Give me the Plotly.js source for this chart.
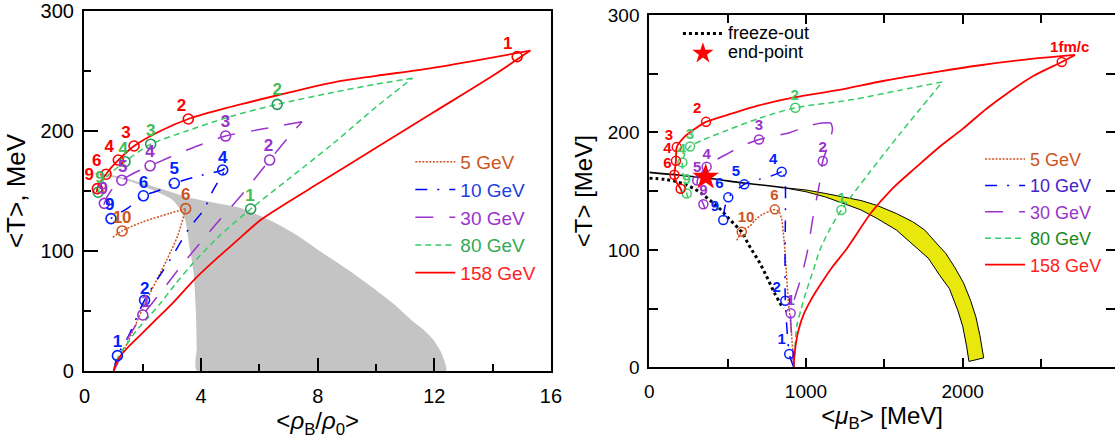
<!DOCTYPE html>
<html><head><meta charset="utf-8">
<script src="https://cdn.plot.ly/plotly-3.0.1.min.js"></script>
<style>html,body{margin:0;padding:0;background:#fff}#g{width:1115px;height:440px}</style>
</head><body><div id="g"></div>
<script>
// ---------------- LEFT PANEL: <rho_B/rho_0> vs <T> ----------------
const grayUpX = [0.3,1,1.5,2.6,3.5,4.5,5.33,6.5,7.3,8.13,9,9.97,10.6,11.19,11.6,11.93,12.2,12.35,12.4];
const grayUpY = [165,163,160,152,145,140,136,124,113,99,85,68,56,43,35,27,17,8,0];
const grayLowX = [0.3,1.5,2.6,3.0,3.25,3.45,3.62,3.75,3.82,3.85,3.86];
const grayLowY = [164.5,158.5,148,143,136,126,101,80,50,20,0];

const L5x = [1.0,1.5,2.13,2.82,3.2,3.47, 2.93,2.02,1.29,0.93];
const L5y = [0,25,59,92.5,113,135.3, 131.4,124.4,116.7,110.6];
const L10x = [1.0,1.13,1.5,2.06,2.93,3.62,4.08,4.42,4.78,4.8, 4.74,4.0,3.08,2.5,2.02,1.5,0.91,0.88];
const L10y = [0,12.8,28.6,59,92.5,120,134,151,166,169, 167.5,163,156.4,150,146,136,127,125];
const L30x = [1.0,1.2,1.45,2.0,2.59,3.33,4.5,5.5,6.35,7.0,7.46, 6.2,4.84,3.5,2.25,1.7,1.28,0.9,0.68,0.66];
const L30y = [0,10,25.8,46.7,64.7,88,122,150,175.8,195,207.8, 202,195.8,184,171,165,159,150,139.7,136];
const L80x = [1.0,1.16,1.5,1.79,2.2,2.59,3.1,3.62,4.6,5.7,7.0,8.5,10.0,11.25, 10.0,8.5,6.61,5.0,3.5,2.27,1.7,1.39,0.9,0.6,0.47,0.46];
const L80y = [0,12,24,34,45,56,72,87,112,135,160,189,220,244, 239,232,222.2,212,200,189,180,174.4,165,157,149,145];
const L158x = [1.0,1.1,1.25,1.5,2.0,2.5,3.0,3.8,4.5,5.2,6.05,7.0,8.0,10.0,12.0,14.0,15.29, 13.5,11.8,10.0,8.62,6.66,5.0,3.56,2.6,1.70,1.16,0.9,0.74,0.55,0.44,0.42];
const L158y = [0,7,13,20,32,44,56,77,93,108,126,141,156,186,216,246,267, 259,252,246,241,230,220,210,200,187.5,175.8,169,164,158,152,149];

const L5mx = [3.47,1.29], L5my = [135.3,116.7];
const L10mx = [1.13,2.06,4.74,3.08,2.02,0.91], L10my = [12.8,59,167.5,156.4,146,127];
const L30mx = [2.0,6.35,4.84,2.25,1.28,0.68], L30my = [46.7,175.8,195.8,171,159,139.7];
const L80mx = [5.7,6.61,2.27,1.39,0.47], L80my = [135,222.2,189,174.4,149];
const L158mx = [14.84,3.56,1.70,1.16,0.74,0.44], L158my = [262,210,187.5,175.8,164,152];

const L5lx = [3.47,1.29], L5ly = [146,127], L5lt = ['6','10'];
const L10lx = [1.13,2.07,4.74,3.08,2.02,0.87], L10ly = [23.6,67.5,177,167.5,156,137.5], L10lt = ['1','2','4','5','6','9'];
const L30lx = [2.11,6.31,4.84,2.25,1.31,0.64], L30ly = [57,187,207,182,169,151], L30lt = ['1','2','3','4','5','9'];
const L80lx = [5.68,6.61,2.27,1.33,0.53], L80ly = [145.3,233.6,199,184.7,160.6], L80lt = ['1','2','3','4','9'];
const L158lx = [14.52,3.33,1.42,0.85,0.42,0.16], L158ly = [271.7,220,198,186,174,162.5], L158lt = ['1','2','3','4','6','9'];

// ---------------- RIGHT PANEL: <mu_B> vs <T> ----------------
const yelOutX = [855,1000,1125,1250,1351,1450,1576,1680,1757,1830,1892,1950,2005,2050,2084,2110,2129,2134];
const yelOutY = [153,151,148,145,142,138,131,124,117,106,97,85,72,57,43,27,10,8];
const yelInX = [855,1000,1125,1250,1351,1450,1576,1680,1780,1855,1915,1970,2000,2025,2040];
const yelInY = [153,149.5,145,139,134,127,117,105,93,78,67,48,35,18,5];
const bndX = [0,200,400,600,800,855];
const bndY = [166,163.5,160.5,157,154,153];
const frzX = [0,100,200,300,380,450,520,590,640,700,750,800,855];
const frzY = [161,160,157,151,143,135,125,115,103,90,77,63,50];
const endX = [360], endY = [162];

const R5x = [922,915,900,887,875,865,855,845,830,802, 770,720,680,640,610,590,575,558];
const R5y = [0,15,40,57,80,100,115,126,132,134.5, 133,130,126,120,118,115.5,112,108];
const R10x = [922,900,893,880,868,866,868,869,865,845, 780,700,606,550,504,480,472,470];
const R10y = [0,8,11.3,30,56.7,90,120,150,162,166.6, 163,160,155.8,150,144.7,135,125.4,122];
const R30x = [922,910,903,935,966,1011,1045,1091,1107,1147,1169,1158, 1100,1000,900,800,700,600,500,420,366,330,306,315,345,355];
const R30y = [0,25,46,62,75,100,128,160,175.7,191,203.5,208.3, 208,205,200,197,194,189,182,176,170.8,165,159,148,138.8,135];
const R80x = [922,928,941,970,1005,1050,1089,1150,1226,1400,1600,1870, 1600,1300,932,700,500,350,260,225,211,215,225,239,245];
const R80y = [0,12,35,50,66,84,100,117,134,165,199,243, 236,228,221,212,202,194,188,181,174.5,165,157,148,145];
const R158x = [922,925,935,955,985,1030,1090,1160,1260,1418,1550,1700,1855,2000,2150,2281,2450,2632,2717, 2400,2100,1855,1500,1200,932,700,500,362,280,215,175,171,170,165,160,175,200,210];
const R158y = [0,8,20,33,45,57,70,84,101,132,152,170,188,203,220,233,248,260,266, 262,257,252,244,236,230,223,215,209,202,195,187.5,181,175.8,170,164,157,152,148];

const R5mx = [801,590], R5my = [134.5,115.5];
const R10mx = [893,868,845,606,504,472], R10my = [11.3,56.7,166.6,155.8,144.7,125.4];
const R30mx = [902,1107,700,366,306,345], R30my = [46,175.7,194,170.8,159,138.8];
const R80mx = [1226,932,260,211,239], R80my = [134,221,188,174.5,148];
const R158mx = [2632,362,175,170,160,200], R158my = [260,209,187.5,175.8,164,152];

const R5lx = [798,617], R5ly = [145.3,127], R5lt = ['6','10'];
const R10lx = [845,813,791,553,447,419], R10ly = [22.7,67,176.5,165.7,156,136], R10lt = ['1','2','4','5','6','9'];
const R30lx = [902,1107,700,366,306,345], R30ly = [56,186.5,205,180.8,169.5,149.6], R30lt = ['1','2','3','4','5','9'];
const R80lx = [1226,928,260,207,239], R80ly = [143.3,231,198,185,159], R80lt = ['1','2','3','4','9'];
const R158lx = [2683,306,126,115,115], R158ly = [271.6,219.7,197,185.6,173], R158lt = ['1fm/c','2','3','4','6'];

const seriesNames = ['5 GeV','10 GeV','30 GeV','80 GeV','158 GeV'];
// index of the turning point (tip) of each trajectory, where the curve has a corner
const Ltip = [5,9,10,13,16];
const Rtip = [9,9,11,11,18];

// ---------------- styles ----------------
const FONT = 'Liberation Sans, Arial, Helvetica, sans-serif';
const lineCol = ['#d0501c','#0000ff','#9a33cc','#33cc66','#ff0000'];
const dashes = ['2px,1.5px','12px,10px,2px,10px','18px,16px','6px,4px','solid'];
const leftTextCol = ['#cc5522','#1f3fe0','#9933cc','#33aa55','#ff2222'];
const rightTextCol = ['#cc5522','#4422cc','#9933cc','#1a8a1a','#ff2222'];
const leftMarkCol = ['#cc5522','#0022ff','#9933cc','#229955','#ff0000'];
const rightMarkCol = ['#cc5522','#0022ff','#9933cc','#44cc66','#ff0000'];
const leftLabCol = ['#cc5522','#0022ff','#9933cc','#44bb55','#ff0000'];
const rightLabCol = ['#cc5522','#0022ff','#9933cc','#44cc66','#ff0000'];

const L = [[L5x,L5y],[L10x,L10y],[L30x,L30y],[L80x,L80y],[L158x,L158y]];
const LM = [[L5mx,L5my],[L10mx,L10my],[L30mx,L30my],[L80mx,L80my],[L158mx,L158my]];
const LL = [[L5lx,L5ly,L5lt],[L10lx,L10ly,L10lt],[L30lx,L30ly,L30lt],[L80lx,L80ly,L80lt],[L158lx,L158ly,L158lt]];
const R = [[R5x,R5y],[R10x,R10y],[R30x,R30y],[R80x,R80y],[R158x,R158y]];
const RM = [[R5mx,R5my],[R10mx,R10my],[R30mx,R30my],[R80mx,R80my],[R158mx,R158my]];
const RL = [[R5lx,R5ly,R5lt],[R10lx,R10ly,R10lt],[R30lx,R30ly,R30lt],[R80lx,R80ly,R80lt],[R158lx,R158ly,R158lt]];

const traces = [];
traces.push({x: grayUpX.concat(grayLowX.slice().reverse()), y: grayUpY.concat(grayLowY.slice().reverse()),
  xaxis:'x', yaxis:'y', mode:'lines', fill:'toself', fillcolor:'#c4c4c4', line:{width:0, color:'#c4c4c4', shape:'spline', smoothing:0.6},
  showlegend:false, hoverinfo:'skip'});
traces.push({x: yelOutX.concat(yelInX.slice().reverse(), [yelOutX[0]]), y: yelOutY.concat(yelInY.slice().reverse(), [yelOutY[0]]),
  xaxis:'x2', yaxis:'y2', mode:'lines', fill:'toself', fillcolor:'#e8e80c', line:{width:1, color:'#000'},
  showlegend:false, hoverinfo:'skip'});
traces.push({x: bndX, y: bndY, xaxis:'x2', yaxis:'y2', mode:'lines', line:{width:1.6, color:'#000', shape:'spline'}, showlegend:false});
traces.push({x: frzX, y: frzY, xaxis:'x2', yaxis:'y2', mode:'lines', name:'<span style="font-size:18px">freeze-out</span>', legend:'legend3',
  line:{width:3, color:'#000', dash:'3px,3px', shape:'spline'}});

function addSplit(xs, ys, tip, xa, ya, leg, name, col, w, dash) {
  traces.push({x: xs.slice(0, tip + 1), y: ys.slice(0, tip + 1), xaxis:xa, yaxis:ya, mode:'lines', legend:leg,
    name: name, legendgroup: leg + name, line:{color: col, width: w, dash: dash, shape:'spline', smoothing:0.8}});
  traces.push({x: xs.slice(tip), y: ys.slice(tip), xaxis:xa, yaxis:ya, mode:'lines', legend:leg, showlegend:false,
    legendgroup: leg + name, line:{color: col, width: w, dash: dash, shape:'spline', smoothing:0.8}});
}
for (let i = 0; i < 5; i++) {
  const w = i === 4 ? 1.8 : 1.5;
  addSplit(L[i][0], L[i][1], Ltip[i], 'x', 'y', 'legend',
    '<span style="color:' + leftTextCol[i] + '">' + seriesNames[i] + '</span>', lineCol[i], w, dashes[i]);
  addSplit(R[i][0], R[i][1], Rtip[i], 'x2', 'y2', 'legend2',
    '<span style="color:' + rightTextCol[i] + '">' + seriesNames[i] + '</span>', lineCol[i], w, dashes[i]);
}
for (let i = 0; i < 5; i++) {
  traces.push({x: LM[i][0], y: LM[i][1], xaxis:'x', yaxis:'y', mode:'markers', showlegend:false,
    marker:{symbol:'circle-open', size:10, color: leftMarkCol[i], line:{width:1.6, color:leftMarkCol[i]}}});
  traces.push({x: RM[i][0], y: RM[i][1], xaxis:'x2', yaxis:'y2', mode:'markers', showlegend:false,
    marker:{symbol:'circle-open', size:9, color: rightMarkCol[i], line:{width:1.5, color:rightMarkCol[i]}}});
}
traces.push({x: endX, y: endY, xaxis:'x2', yaxis:'y2', mode:'markers', name:'<span style="font-size:18px">end-point</span>', legend:'legend3',
  marker:{symbol:'star', size:20, color:'#ff0000', line:{width:0}}});
for (let i = 0; i < 5; i++) {
  traces.push({x: LL[i][0], y: LL[i][1], text: LL[i][2], xaxis:'x', yaxis:'y', mode:'text', showlegend:false,
    textfont:{family: FONT, size:17, color: leftLabCol[i], weight:'bold'}, textposition:'middle center'});
  traces.push({x: RL[i][0], y: RL[i][1], text: RL[i][2], xaxis:'x2', yaxis:'y2', mode:'text', showlegend:false,
    textfont:{family: FONT, size:15, color: rightLabCol[i], weight:'bold'}, textposition:'middle center'});
}

const axBase = {showgrid:false, zeroline:false, showline:true, linecolor:'#000', ticks:'inside',
  tickcolor:'#000', tickwidth:2, tickfont:{family: FONT, size:20, color:'#000'}};

const layout = {
  width:1115, height:440, margin:{l:0, r:0, t:0, b:0}, paper_bgcolor:'#fff', plot_bgcolor:'rgba(0,0,0,0)',
  font:{family: FONT, color:'#000'}, showlegend:true,
  xaxis: Object.assign({}, axBase, {domain:[0.07578, 0.49417], range:[0,16], dtick:4, tick0:0, ticklen:13,
    linewidth:2.5, mirror:true, ticklabelstandoff:6,
    minor:{dtick:2, ticklen:7, ticks:'inside', tickcolor:'#000', tickwidth:2},
    title:{text:'&lt;<i>ρ</i><sub>B</sub>/<i>ρ</i><sub>0</sub>&gt;', font:{family: FONT, size:24}, standoff:6}, anchor:'y'}),
  yaxis: Object.assign({}, axBase, {domain:[0.15682, 0.975], range:[0,300], dtick:100, tick0:0, ticklen:14,
    linewidth:2.5, mirror:true, ticklabelstandoff:4,
    minor:{dtick:50, ticklen:7, ticks:'inside', tickcolor:'#000', tickwidth:2},
    title:{text:'&lt;T&gt;, MeV', font:{family: FONT, size:26}, standoff:8}, anchor:'x'}),
  xaxis2: Object.assign({}, axBase, {domain:[0.58233, 1], range:[0,2972], dtick:1000, tick0:0, ticklen:9,
    linewidth:2, mirror:'ticks', ticklabelstandoff:6, tickfont:{family: FONT, size:19, color:'#000'},
    minor:{dtick:500, ticklen:8, ticks:'inside', tickcolor:'#000', tickwidth:2},
    title:{text:'&lt;<i>μ</i><sub>B</sub>&gt; [MeV]', font:{family: FONT, size:24}, standoff:2}, anchor:'y2'}),
  yaxis2: Object.assign({}, axBase, {domain:[0.16523, 0.96591], range:[0,300], dtick:100, tick0:0, ticklen:9,
    linewidth:2, mirror:'ticks', ticklabelstandoff:4, tickfont:{family: FONT, size:19, color:'#000'},
    minor:{dtick:50, ticklen:9, ticks:'inside', tickcolor:'#000', tickwidth:2},
    title:{text:'&lt;T&gt; [MeV]', font:{family: FONT, size:24}, standoff:8}, anchor:'x2'}),
  legend:{x:0.368, y:0.675, xanchor:'left', yanchor:'top', bgcolor:'rgba(0,0,0,0)', borderwidth:0,
    font:{family: FONT, size:19}, tracegroupgap:0, itemwidth:40},
  legend2:{x:0.879, y:0.68, xanchor:'left', yanchor:'top', bgcolor:'rgba(0,0,0,0)', borderwidth:0,
    font:{family: FONT, size:18}, tracegroupgap:0, itemwidth:40},
  legend3:{x:0.608, y:0.958, xanchor:'left', yanchor:'top', bgcolor:'rgba(0,0,0,0)', borderwidth:0,
    font:{family: FONT, size:13}, tracegroupgap:0, itemwidth:40}
};

Plotly.newPlot('g', traces, layout, {staticPlot:true, displayModeBar:false});
</script></body></html>
